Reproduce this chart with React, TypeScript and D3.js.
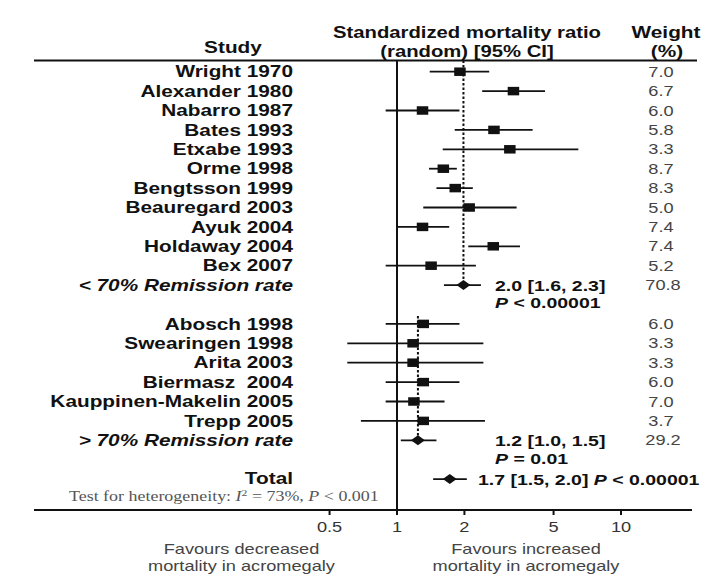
import React from "react";
import * as d3 from "d3";

// ---- data ----
const group1Names = ["Wright 1970", "Alexander 1980", "Nabarro 1987", "Bates 1993", "Etxabe 1993", "Orme 1998", "Bengtsson 1999", "Beauregard 2003", "Ayuk 2004", "Holdaway 2004", "Bex 2007"];
const group1Smr = [1.91, 3.31, 1.30, 2.71, 3.19, 1.61, 1.82, 2.10, 1.30, 2.69, 1.42];
const group1Lo = [1.40, 2.40, 0.89, 1.81, 1.60, 1.39, 1.50, 1.31, 1.01, 2.08, 0.89];
const group1Hi = [2.58, 4.58, 1.90, 4.03, 6.45, 1.85, 2.18, 3.42, 1.71, 3.54, 2.25];
const group1Weight = ["7.0", "6.7", "6.0", "5.8", "3.3", "8.7", "8.3", "5.0", "7.4", "7.4", "5.2"];

const group2Names = ["Abosch 1998", "Swearingen 1998", "Arita 2003", "Biermasz  2004", "Kauppinen-Makelin 2005", "Trepp 2005"];
const group2Smr = [1.31, 1.18, 1.18, 1.31, 1.19, 1.31];
const group2Lo = [0.89, 0.60, 0.60, 0.89, 0.89, 0.69];
const group2Hi = [1.90, 2.43, 2.43, 1.90, 1.63, 2.47];
const group2Weight = ["6.0", "3.3", "3.3", "6.0", "7.0", "3.7"];

const subgroupLabels = ["< 70% Remission rate", "> 70% Remission rate"];
const subgroupEst = [1.98, 1.24];
const subgroupLo = [1.62, 1.04];
const subgroupHi = [2.37, 1.50];
const subgroupText = ["2.0 [1.6, 2.3]", "1.2 [1.0, 1.5]"];
const subgroupP = ["< 0.00001", "= 0.01"];
const subgroupWeight = ["70.8", "29.2"];

const totalEst = 1.72;
const totalLo = 1.45;
const totalHi = 2.05;
const totalText = "1.7 [1.5, 2.0]";
const totalP = "< 0.00001";

const tickValues = [0.5, 1, 2, 5, 10];
const tickLabels = ["0.5", "1", "2", "5", "10"];

// ---- layout ----
const W = 712;
const H = 583;
const SX = 1.3; // horizontal stretch of the original figure
const SANS = "'Liberation Sans', Arial, Helvetica, sans-serif";
const SERIF = "'Liberation Serif', 'Times New Roman', serif";

const x = d3.scaleLog().domain([1, 10]).range([397, 621]);
const row = d3.scaleLinear().domain([0, 1]).range([71.7, 91.1]);

type TProps = {
  x: number; y: number; size: number; anchor?: "start" | "middle" | "end";
  weight?: string | number; italic?: boolean; fill?: string; family?: string;
  children: React.ReactNode;
};
function T({ x, y, size, anchor = "start", weight = "normal", italic = false, fill = "#111", family = SANS, children }: TProps) {
  // y is the visual centre of capitals
  const base = y + size * 0.36;
  return (
    <text
      transform={`translate(${x},${base}) scale(${SX},1)`}
      textAnchor={anchor}
      fontSize={size}
      fontWeight={weight}
      fontStyle={italic ? "italic" : "normal"}
      fill={fill}
      fontFamily={family}
      style={{ whiteSpace: "pre" }}
    >
      {children}
    </text>
  );
}

const LABEL_X = 293;
const WEIGHT_X = 661;
const SUM_TEXT_X = 495;

function StudyRow({ i, name, smr, lo, hi, weight }: { i: number; name: string; smr: number; lo: number; hi: number; weight: string }) {
  const y = row(i);
  const sw = 11.5;
  const sh = 8.5;
  return (
    <g>
      <T x={LABEL_X} y={y} size={16} anchor="end" weight="bold">{name}</T>
      <line x1={x(lo)} x2={x(hi)} y1={y} y2={y} stroke="#111" strokeWidth={1.8} />
      <rect x={x(smr) - sw / 2} y={y - sh / 2} width={sw} height={sh} fill="#111" />
      <T x={WEIGHT_X} y={y} size={14} anchor="middle" fill="#444">{weight}</T>
    </g>
  );
}

function Diamond({ y, est, lo, hi }: { y: number; est: number; lo: number; hi: number }) {
  const cx = x(est);
  const dw = 7;
  const dh = 5;
  return (
    <g>
      <line x1={x(lo)} x2={x(hi)} y1={y} y2={y} stroke="#111" strokeWidth={1.8} />
      <path d={`M${cx - dw},${y} L${cx},${y - dh} L${cx + dw},${y} L${cx},${y + dh} Z`} fill="#111" />
    </g>
  );
}

export default function App() {
  const g1Sum = 11;
  const g2Start = 13;
  const g2Sum = 19;
  const totalRow = 21;
  const axisY = 510;
  const headerY = 60.5;

  return (
    <svg width={W} height={H} viewBox={`0 0 ${W} ${H}`} style={{ display: "block", position: "absolute", left: 0, top: 0, background: "#fff" }}>
      <rect x={0} y={0} width={W} height={H} fill="#fff" />
      {/* headers */}
      <T x={233} y={47} size={16} anchor="middle" weight="bold">Study</T>
      <T x={467} y={32} size={15.6} anchor="middle" weight="bold">Standardized mortality ratio</T>
      <T x={467} y={51} size={15.6} anchor="middle" weight="bold">(random) [95% CI]</T>
      <T x={666} y={32} size={16} anchor="middle" weight="bold">Weight</T>
      <T x={667} y={51} size={16} anchor="middle" weight="bold">(%)</T>
      <line x1={34} x2={697} y1={headerY} y2={headerY} stroke="#111" strokeWidth={2} />

      {/* reference line at 1 */}
      <line x1={x(1)} x2={x(1)} y1={headerY} y2={axisY} stroke="#111" strokeWidth={2} />

      {/* dotted subgroup lines */}
      <line x1={x(subgroupEst[0])} x2={x(subgroupEst[0])} y1={headerY} y2={row(g1Sum)} stroke="#111" strokeWidth={2} strokeDasharray="2.5,2" />
      <line x1={x(subgroupEst[1])} x2={x(subgroupEst[1])} y1={row(g2Start) - 8} y2={row(g2Sum)} stroke="#111" strokeWidth={2} strokeDasharray="2.5,2" />

      {group1Names.map((n, i) => (
        <StudyRow key={n} i={i} name={n} smr={group1Smr[i]} lo={group1Lo[i]} hi={group1Hi[i]} weight={group1Weight[i]} />
      ))}
      {group2Names.map((n, i) => (
        <StudyRow key={n} i={g2Start + i} name={n} smr={group2Smr[i]} lo={group2Lo[i]} hi={group2Hi[i]} weight={group2Weight[i]} />
      ))}

      {[g1Sum, g2Sum].map((r, k) => (
        <g key={k}>
          <T x={LABEL_X} y={row(r)} size={16} anchor="end" weight="bold" italic>{subgroupLabels[k]}</T>
          <Diamond y={row(r)} est={subgroupEst[k]} lo={subgroupLo[k]} hi={subgroupHi[k]} />
          <T x={SUM_TEXT_X} y={row(r)} size={15} weight="bold">{subgroupText[k]}</T>
          <T x={SUM_TEXT_X} y={row(r + 1) - 1.5} size={15} weight="bold">
            <tspan fontStyle="italic">P</tspan>{" " + subgroupP[k]}
          </T>
          <T x={WEIGHT_X + 2} y={row(r)} size={14} anchor="middle" fill="#444">{subgroupWeight[k]}</T>
        </g>
      ))}

      {/* total */}
      <T x={LABEL_X} y={row(totalRow) - 0.5} size={16} anchor="end" weight="bold">Total</T>
      <Diamond y={row(totalRow)} est={totalEst} lo={totalLo} hi={totalHi} />
      <T x={478} y={row(totalRow)} size={15} weight="bold">
        {totalText + " "}<tspan fontStyle="italic">P</tspan>{" " + totalP}
      </T>
      <T x={69} y={row(totalRow) + 16.5} size={13.8} family={SERIF} fill="#555">
        {"Test for heterogeneity: "}<tspan fontStyle="italic">I</tspan><tspan fontSize={9} dy={-5}>2</tspan><tspan dy={5}>{" = 73%, "}</tspan><tspan fontStyle="italic">P</tspan>{" < 0.001"}
      </T>

      {/* axis */}
      <line x1={34} x2={692} y1={axisY} y2={axisY} stroke="#111" strokeWidth={2} />
      {tickValues.map((v, i) => (
        <g key={v}>
          <line x1={x(v)} x2={x(v)} y1={axisY} y2={axisY + 5} stroke="#111" strokeWidth={2} />
          <T x={x(v)} y={527} size={14} anchor="middle" fill="#333">{tickLabels[i]}</T>
        </g>
      ))}
      <T x={241.5} y={548.5} size={14} anchor="middle" fill="#444">Favours decreased</T>
      <T x={241.5} y={566} size={14} anchor="middle" fill="#444">mortality in acromegaly</T>
      <T x={526} y={548.5} size={14} anchor="middle" fill="#444">Favours increased</T>
      <T x={526} y={566} size={14} anchor="middle" fill="#444">mortality in acromegaly</T>
    </svg>
  );
}
